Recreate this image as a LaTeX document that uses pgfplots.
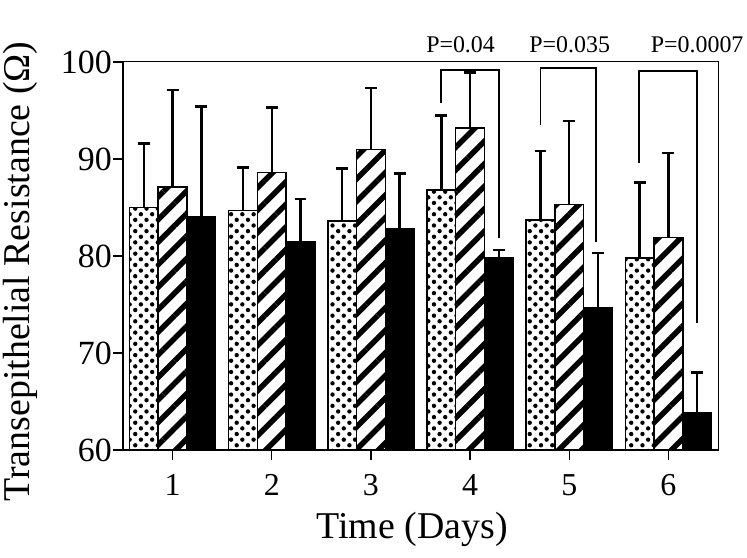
\documentclass[border=0pt]{standalone}
\usepackage{pgfplots}
\pgfplotsset{compat=1.18}
\usepackage{pgfplotstable}
\usepackage{fontspec}
\setmainfont{Liberation Serif}
\usetikzlibrary{patterns.meta}

\pgfplotstableread{
x  y     e
1  85.0  6.6
2  84.7  4.4
3  83.6  5.4
4  86.8  7.7
5  83.7  7.1
6  79.8  7.8
}\dotted
\pgfplotstableread{
x  y     e
1  87.1  10.0
2  88.6  6.7
3  91.0  6.3
4  93.2  5.7
5  85.3  8.6
6  81.9  8.7
}\hatched
\pgfplotstableread{
x  y     e
1  84.0  11.4
2  81.5  4.4
3  82.8  5.7
4  79.8  0.8
5  74.7  5.6
6  63.8  4.2
}\solid

\begin{document}
\begin{tikzpicture}
\useasboundingbox (-123bp,-108bp) rectangle (624bp,450bp);
\begin{axis}[
    at={(0,0)}, anchor=south west,
    scale only axis,
    width=595bp, height=388bp,
    xmin=0.5, xmax=6.5, ymin=60, ymax=100,
    xtick={1,2,3,4,5,6},
    ytick={60,70,80,90,100},
    xtick pos=bottom, ytick pos=left,
    tick align=outside,
    major tick length=10bp,
    tick style={line width=1.5pt, black},
    axis line style={line width=1pt},
    /pgf/number format/assume math mode=true,
    yticklabel style={font=\fontsize{34}{36}\selectfont, inner sep=1pt},
    xticklabel style={font=\fontsize{32}{34}\selectfont, yshift=-11bp},
    xlabel={Time (Days)},
    ylabel={Transepithelial Resistance (Ω)},
    xlabel style={font=\fontsize{38}{40}\selectfont, at={(axis description cs:0.486,-0.205)}, anchor=center},
    ylabel style={font=\fontsize{38}{40}\selectfont, at={(axis description cs:-0.172,0.46)}, anchor=center},
    ybar=0pt,
    bar width=0.29,
    clip=false,
    error bars/y dir=plus,
    error bars/y explicit,
    error bars/error bar style={line width=2.5pt, black},
    error bars/error mark options={rotate=90, mark size=6pt, line width=2.5pt, black},
]
\addplot[draw=black, line width=1.5pt, fill=white,
    postaction={pattern={Dots[radius=2.2pt, distance=8pt, angle=45]}}]
    table[x=x, y=y, y error=e] {\dotted};
\addplot[draw=black, line width=1.5pt, fill=white,
    postaction={pattern={Lines[angle=45, distance=16pt, line width=5.5pt]}}]
    table[x=x, y=y, y error=e] {\hatched};
\addplot[draw=black, line width=1.5pt, fill=black]
    table[x=x, y=y, y error=e] {\solid};

% thick left and bottom axis lines
\draw[line width=3pt] (axis cs:0.5,100) -- (axis cs:0.5,60) -- (axis cs:6.5,60);

% significance brackets
\draw[line width=1.8pt] (axis cs:3.71,95.8) -- (axis cs:3.71,99.2) -- (axis cs:4.29,99.2) -- (axis cs:4.29,81.9);
\draw[line width=1.8pt] (axis cs:4.71,93.5) -- (axis cs:4.71,99.4) -- (axis cs:5.27,99.4) -- (axis cs:5.27,81.4);
\draw[line width=1.8pt] (axis cs:5.70,89.6) -- (axis cs:5.70,99.1) -- (axis cs:6.29,99.1) -- (axis cs:6.29,73.1);

\node[anchor=base, font=\fontsize{24}{26}\selectfont] at (axis cs:3.904,101.0) {P=0.04};
\node[anchor=base, font=\fontsize{24}{26}\selectfont] at (axis cs:5.005,101.0) {P=0.035};
\node[anchor=base, font=\fontsize{24}{26}\selectfont] at (axis cs:6.29,101.0) {P=0.0007};
\end{axis}
\end{tikzpicture}
\end{document}
